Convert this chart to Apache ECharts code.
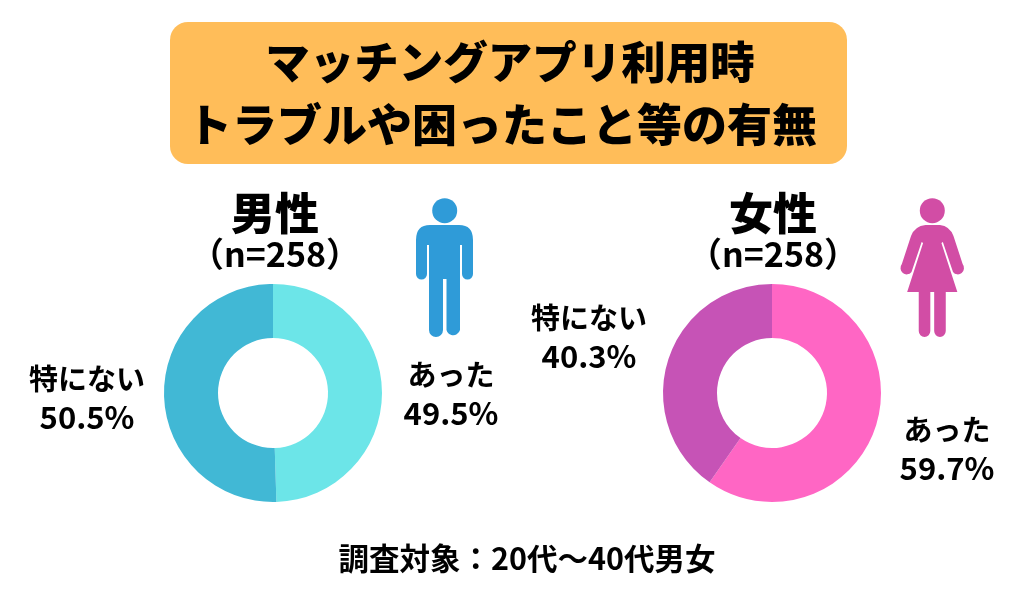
<!DOCTYPE html>
<html><head><meta charset="utf-8">
<style>html,body{margin:0;padding:0;background:#fff}#c{width:1024px;height:600px}</style>
<script src="https://cdn.jsdelivr.net/npm/echarts@6/dist/echarts.min.js"></script>
</head><body><div id="c"></div>
<script>
const categories = ['あった', '特にない'];
const maleValues = [49.5, 50.5];
const femaleValues = [59.7, 40.3];
const maleColors = ['#6CE5E8', '#41B8D5'];
const femaleColors = ['#FF66C4', '#C653B6'];
const titleLine1 = 'マッチングアプリ利用時';
const titleLine2 = 'トラブルや困ったこと等の有無';
const footnote = '調査対象：20代〜40代男女';
const FONT = '"Noto Sans CJK JP"';

const manPath = 'M430 225H459Q473 225 473 240V274A5.5 5.5 0 0 1 462 274V245H460V330A7 7 0 0 1 446.5 330V279H443V330A7 7 0 0 1 429 330V245H427V274A5.5 5.5 0 0 1 416 274V240Q416 225 430 225Z';
const womanPath = 'M925 225H940Q950 226 954 236L963.5 264A5.5 5.5 0 0 1 953.5 272L943 242L941.5 243L958 292H946V331A6 6 0 0 1 934 331V292H930V331A6 6 0 0 1 918 331V292H906L922.5 243L921 242L910.5 272A5.5 5.5 0 0 1 900.5 264L910 236Q914 226 925 225Z';

function txt(x, y, text, size, weight) {
  return {type:'text', x, y, style:{text, fontSize:size, fontWeight:weight||700, fontFamily:FONT, fill:'#000', align:'center', verticalAlign:'middle', lineHeight:size*1.25}};
}
function pie(center, values, colors, labelPos) {
  return {
    type:'pie', center, radius:[55,109], startAngle:90, clockwise:true, silent:true, animation:false, z:2,
    data: categories.map((name,i)=>({name, value:values[i], itemStyle:{color:colors[i]}})),
    label:{show:true, overflow:'none', formatter:p=>'{n|'+p.name+'}\n{v|'+p.value.toFixed(1)+'%}', color:'#000', align:'center', verticalAlign:'middle',
      rich:{
        n:{fontFamily:FONT, fontWeight:700, fontSize:29, lineHeight:38, color:'#000', align:'center'},
        v:{fontFamily:FONT, fontWeight:700, fontSize:31, lineHeight:38, color:'#000', align:'center'}
      }},
    labelLine:{show:false},
    labelLayout:p=>({x:labelPos[p.dataIndex][0], y:labelPos[p.dataIndex][1], align:'center', verticalAlign:'middle'})
  };
}
function icon(pathData, rect, color) {
  return {
    type:'custom', coordinateSystem:'none', silent:true, animation:false, data:[0],
    renderItem:()=>({type:'path', shape:{pathData, x:rect[0], y:rect[1], width:rect[2], height:rect[3], layout:'cover'}, style:{fill:color}})
  };
}
const chart = echarts.init(document.getElementById('c'), null, {renderer:'canvas'});
chart.setOption({
  animation:false,
  backgroundColor:'#fff',
  series:[
    pie([273,393], maleValues, maleColors, [[451,394],[87,398]]),
    pie([772,393], femaleValues, femaleColors, [[947,449],[589,337]]),
    icon(manPath, [416,225,57,112], '#2F9BD8'),
    icon(womanPath, [900.5,225,63.5,112], '#D24DA5')
  ],
  graphic:[
    {type:'rect', shape:{x:170,y:22,width:677,height:142,r:18}, style:{fill:'#FFBD59'}},
    txt(510,62,titleLine1,44.5,900),
    txt(502,125,titleLine2,45,900),
    txt(275,213,'男性',44,900),
    txt(275,254,'（n=258）',34),
    txt(773,213,'女性',44,900),
    txt(773,254,'（n=258）',34),
    txt(527,558,footnote,30.5),
    {type:'circle', shape:{cx:444.7,cy:210.7,r:12.5}, style:{fill:'#2F9BD8'}},
    {type:'circle', shape:{cx:932.3,cy:210.7,r:12.5}, style:{fill:'#D24DA5'}}
  ]
});
</script></body></html>
